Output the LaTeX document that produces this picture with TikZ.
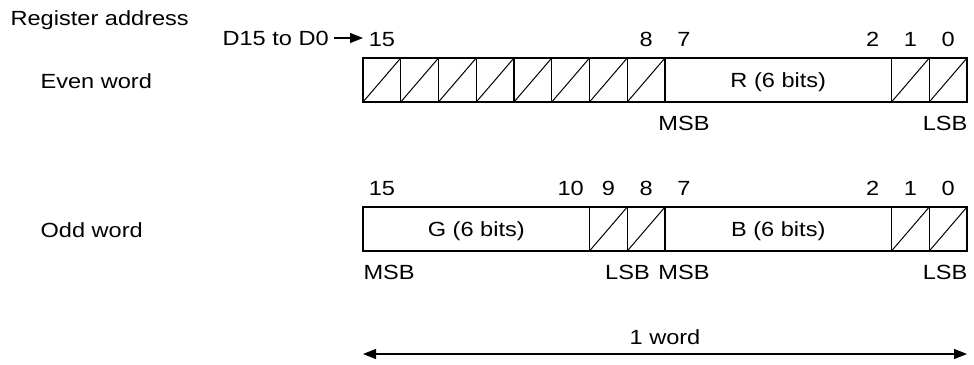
\documentclass[tikz,border=0pt]{standalone}
\usepackage{fontspec}
\setmainfont{Liberation Sans}[FakeStretch=1.15]
\usetikzlibrary{arrows.meta}
\begin{document}
\begin{tikzpicture}[x=1pt,y=-1pt,line width=1.2pt,
  every node/.style={font=\fontsize{20.5}{24}\selectfont,inner sep=0pt,text height=14.7pt,text depth=0pt},
  hcell/.style={draw,minimum width=37.75pt,minimum height=44pt,outer sep=0pt,
    path picture={\draw[line width=1pt] (path picture bounding box.south west) -- (path picture bounding box.north east);}},
  field/.style={draw,minimum width=226.5pt,minimum height=44pt,outer sep=0pt},
  >={Triangle[length=13pt,width=10pt]}
]
\useasboundingbox (0,0) rectangle (974,364);

% left labels
\node[anchor=west] (reg) at (10,18) {Register address};
\node[anchor=west] (dd) at (222,38) {D15 to D0};
\node[anchor=west] (even) at (40,81) {Even word};
\node[anchor=west] (odd) at (40,230) {Odd word};

% even word
\foreach \b in {15,14,13,12,11,10,9,8,1,0}
  \node[hcell] (e\b) at ({363+(15.5-\b)*37.75},80) {};
\node[field] (R) at (778.25,80) {R (6 bits)};

% odd word
\node[field] (G) at (476.25,229) {G (6 bits)};
\foreach \b in {9,8,1,0}
  \node[hcell] (o\b) at ({363+(15.5-\b)*37.75},229) {};
\node[field] (B) at (778.25,229) {B (6 bits)};

% bit numbers, even
\foreach \b in {15,8,7,2,1,0}
  \node (te\b) at ({363+(15.5-\b)*37.75},39) {\b};
% bit numbers, odd
\foreach \b in {15,10,9,8,7,2,1,0}
  \node (to\b) at ({363+(15.5-\b)*37.75},188) {\b};

% arrow D15 to D0
\coordinate (ah) at (363,38);
\draw[->] ([xshift=5pt]dd.east) -- (ah);

% MSB / LSB
\node (emsb) at (684,123) {MSB};
\node[anchor=east] (elsb) at (968,123) {LSB};
\node[anchor=west] (omsb1) at (363,272) {MSB};
\node (olsb1) at (627.5,272) {LSB};
\node (omsb2) at (684,272) {MSB};
\node[anchor=east] (olsb2) at (968,272) {LSB};

% 1 word
\node (word) at (665,337) {1 word};
\coordinate (wl) at (363,354);
\coordinate (wr) at (967,354);
\draw[<->] (wl) -- (wr);
\end{tikzpicture}
\end{document}
